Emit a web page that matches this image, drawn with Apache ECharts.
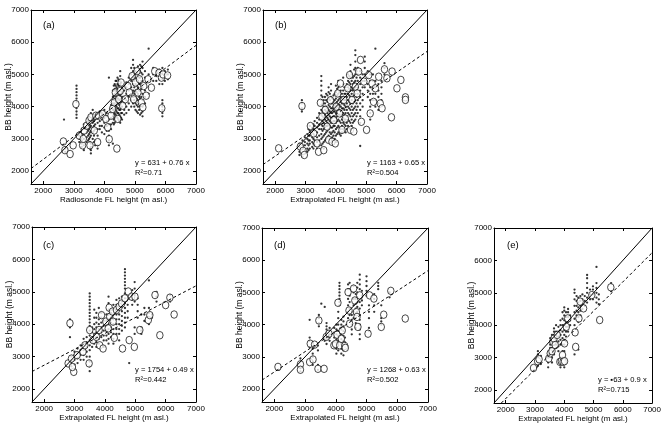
<!DOCTYPE html>
<html>
<head>
	<meta charset="utf-8">
	<title>BB height vs FL height</title>
</head>
<body style="margin:0;background:#fff;">
	<div style="width:664px;height:425px;" id="chart1"></div>

	<script src="https://cdn.jsdelivr.net/npm/echarts@6/dist/echarts.min.js"></script>
	<script>
	// axis range and ticks (same on both axes of every panel)
	var axisMin = 1600, axisMax = 7000;
	var tickVals = [2000, 3000, 4000, 5000, 6000, 7000];

	var panelTags = ['(a)', '(b)', '(c)', '(d)', '(e)'];
	var xNames = ['Radiosonde FL height (m asl.)', 'Extrapolated FL height (m asl.)', 'Extrapolated FL height (m asl.)',
		'Extrapolated FL height (m asl.)', 'Extrapolated FL height (m asl.)'];
	var yName = 'BB height (m asl.)';
	var eqTexts = ['y = 631 + 0.76 x', 'y = 1163 + 0.65 x', 'y = 1754 + 0.49 x', 'y = 1268 + 0.63 x', 'y = \u25aa63 + 0.9 x'];
	var r2Texts = ['R\u00b2=0.71', 'R\u00b2=0.504', 'R\u00b2=0.442', 'R\u00b2=0.502', 'R\u00b2=0.715'];

	// 1:1 line and fitted (dashed) lines, end points
	var diag = [[1600, 1600], [7000, 7000]];
	var fitA = [[1600, 2080], [7000, 5900]];
	var fitB = [[1600, 2203], [7000, 5713]];
	var fitC = [[1600, 2540], [7000, 5184]];
	var fitD = [[1600, 2280], [7000, 5678]];
	var fitE = [[1850, 1600], [7000, 6237]];

	// open circles [FL, BB]
	var circA = [[2660,2920],[2710,2650],[2880,2530],[2980,2800],[3070,4080],[3180,3100],[3290,2800],[3310,3000],[3340,3260],
		[3420,3410],[3500,3570],[3530,2800],[3560,3670],[3670,3260],[3720,3720],[3780,2900],[3810,3720],[3940,3770],[4050,3620],
		[4110,3360],[4160,2990],[4220,3720],[4270,3930],[4330,4130],[4360,4440],[4410,2700],[4440,3620],[4470,4230],[4520,4490],
		[4550,4750],[4600,4030],[4690,4230],[4770,4640],[4820,4440],[4910,4950],[4960,4230],[5020,4750],[5070,5100],[5100,4440],
		[5150,4850],[5210,4130],[5260,3980],[5290,4640],[5370,4340],[5430,4850],[5540,4590],[5650,5100],[5790,5050],[5870,4900],
		[5920,5000],[6070,4970],[5880,3950]];
	var circB = [[2116,2707],[2884,4020],[2830,2760],[2920,2630],[2960,2500],[3160,3400],[3270,3170],[3380,2860],[3430,2600],
		[3490,4120],[3540,3690],[3600,2650],[3650,3900],[3710,3380],[3760,2970],[3820,4200],[3870,2910],[3930,3580],[3980,2860],
		[4010,4000],[4060,4410],[4120,3790],[4150,4720],[4200,3280],[4260,4210],[4310,3630],[4390,4570],[4450,4980],[4480,3280],
		[4530,4210],[4590,3230],[4640,4620],[4700,4410],[4750,5090],[4810,5450],[4840,3530],[4920,4780],[5010,3280],[5080,4980],
		[5130,3790],[5190,4720],[5240,4150],[5300,4570],[5410,4930],[5460,4100],[5520,3950],[5600,5160],[5680,4880],[5830,3670],
		[5850,5090],[6010,4570],[6140,4830],[6290,4290],[6290,4210]];
	var circC = [[2850,4030],[2790,2790],[2900,2940],[2975,2530],[2930,2680],[3085,3045],[3280,3150],[3340,3350],[3480,2790],
		[3500,3820],[3610,3510],[3720,3610],[3810,3820],[3830,3350],[3890,4280],[3940,3250],[4030,4080],[4110,3870],[4140,4510],
		[4160,4230],[4250,4390],[4270,4080],[4310,3580],[4380,4440],[4470,4540],[4550,4640],[4580,3250],[4660,4800],[4770,5010],
		[4800,3510],[4880,4850],[4990,4850],[4970,3300],[5150,3820],[5430,4130],[5480,4280],[5650,4900],[5810,3660],[6000,4590],
		[6140,4820],[6280,4300]];
	var circD = [[2120,2690],[2850,2770],[2850,2600],[3150,2840],[3170,3410],[3260,2920],[3310,3380],[3420,2630],[3450,4130],
		[3620,2630],[3690,3620],[3780,3720],[3940,3360],[3990,3400],[4040,3690],[4070,4680],[4130,3360],[4180,3560],[4210,3820],
		[4290,3340],[4310,3280],[4400,5010],[4430,4440],[4450,4030],[4580,5120],[4620,4750],[4670,4390],[4690,4240],[4720,3930],
		[4780,4910],[5050,3720],[5100,4910],[5240,4810],[5480,3930],[5560,4310],[5790,5050],[6260,4190]];
	var circE = [[2950,2680],[3090,2890],[3140,2950],[3470,2970],[3520,3130],[3580,3200],[3610,3490],[3650,3590],[3690,3390],
		[3760,3700],[3850,2870],[3900,2890],[3940,3080],[3960,2870],[4010,2890],[4010,3440],[4070,3950],[4120,4210],[4390,3330],
		[4370,3780],[4500,4210],[4540,4730],[4660,4520],[4940,4930],[5210,4160],[5590,5170]];

	// small dots, one column per row: [FL, BB1, BB2, ...]
	var dotsA = [
		[2680, 3600], [2720, 2600, 2700],
		[3090, 3650, 3750, 3850, 3950, 4150, 4250, 4350, 4450, 4550, 4650],
		[3180, 2900, 3000, 3100, 3200], [3260, 2750, 2850, 2950, 3050, 3150, 3300],
		[3330, 2650, 2800, 3000, 3150, 3350, 3450], [3420, 2900, 3050, 3200, 3300, 3500],
		[3500, 3000, 3150, 3300, 3450, 3600, 3700], [3560, 2550, 2650, 2750, 2850, 3100, 3250, 3400, 3800],
		[3620, 3000, 3200, 3350, 3500, 3650, 3900], [3700, 2800, 2950, 3300, 3450, 3600, 3750],
		[3780, 2700, 2800, 3100, 3300, 3500, 3650], [3850, 3300, 3400, 3550, 3700, 3850],
		[3920, 3200, 3400, 3600, 3800], [4000, 3150, 3350, 3500, 3650, 3750, 3900],
		[4080, 3250, 3400, 3550, 3700, 3800], [4150, 2800, 2950, 3100, 3250, 3450, 3600, 4900],
		[4220, 3300, 3450, 3650, 3800, 3950, 4050], [4280, 2850, 3500, 3700, 3900, 4100, 4300, 4500],
		[4340, 3500, 3650, 3800, 3950, 4100, 4250, 4400, 4550, 4700],
		[4400, 3700, 3850, 4000, 4150, 4300, 4450, 4600, 4800],
		[4460, 3600, 3800, 3950, 4100, 4250, 4400, 4500, 4650, 4850],
		[4520, 3500, 3700, 3900, 4050, 4200, 4350, 4500, 4700, 4950, 5100],
		[4580, 3600, 3800, 4000, 4150, 4300, 4450, 4600], [4650, 3750, 3900, 4100, 4300, 4500],
		[4720, 3800, 4000, 4200, 4400, 4600, 4750], [4800, 3900, 4100, 4300, 4500, 4700, 4900],
		[4880, 4000, 4200, 4400, 4600, 4800, 5000, 5200], [4940, 4100, 4300, 4500, 4700, 4900, 5100, 5300, 5450],
		[5020, 3900, 4100, 4300, 4500, 4700, 4900, 5100], [5100, 3800, 4000, 4200, 4400, 4600, 4800, 5000, 5250],
		[5170, 3750, 4000, 4250, 4500, 4700, 4900, 5100, 5300],
		[5250, 3700, 3850, 4000, 4200, 4400, 4600, 4800, 5000, 5200, 5400],
		[5330, 4100, 4300, 4500, 4700, 4900, 5100], [5450, 4400, 4600, 4800, 5000, 5800],
		[5600, 4800, 5000, 5200], [5700, 4800, 4950, 5100], [5800, 4700, 4850, 5000, 5150],
		[5900, 3700, 3800, 3900, 4000, 4100, 4200, 4700, 4850, 5000, 5200],
		[5980, 4800, 4950, 5100], [6080, 4850, 5000, 5150],
		[4310, 3450, 3600, 3750, 3900, 4050, 4200, 4350, 4500, 4650],
		[4370, 3550, 3750, 3900, 4050, 4200, 4350, 4500, 4650, 4800],
		[4430, 3650, 3800, 3950, 4100, 4250, 4400, 4550, 4700, 4900],
		[4490, 3550, 3750, 3900, 4050, 4200, 4350, 4500, 4650, 4800],
		[4550, 3650, 3800, 3950, 4100, 4250, 4400, 4550, 4750],
		[4980, 4000, 4200, 4400, 4600, 4800, 5000, 5200], [5060, 3850, 4050, 4250, 4450, 4650, 4850, 5050],
		[5140, 3900, 4100, 4300, 4500, 4700, 4900, 5150], [5210, 3800, 4050, 4300, 4550, 4800, 5050, 5250],
		[3530, 2700, 2900, 3050, 3200, 3350, 3500], [3470, 2950, 3100, 3250, 3400, 3550],
		[3660, 2900, 3100, 3250, 3400, 3550, 3750]
	];
	var dotsB = [
		[2880, 3850, 3950, 4100, 4200], [2800, 2500, 2600, 2750, 2850], [2900, 2450, 2550, 2700, 2800, 2950],
		[2980, 2550, 2650, 2800, 2900, 3050], [3060, 2600, 2700, 2850, 3000, 3150],
		[3140, 2700, 2850, 2950, 3100, 3250, 3400], [3220, 2750, 2900, 3050, 3200, 3350],
		[3300, 2800, 2950, 3100, 3250, 3400, 3550], [3380, 2700, 2900, 3050, 3200, 3350, 3500, 3650],
		[3450, 2800, 2950, 3100, 3300, 3450, 3600, 3800],
		[3520, 2800, 3000, 3150, 3300, 3450, 3600, 3750, 3900, 4050, 4200, 4350, 4500, 4650, 4800, 4950],
		[3600, 2700, 2900, 3100, 3300, 3500, 3650, 3800, 4000, 4200],
		[3680, 3000, 3200, 3400, 3550, 3700, 3850, 4000, 4200, 4400],
		[3760, 3100, 3300, 3450, 3600, 3750, 3900, 4050, 4250, 4450, 4600],
		[3840, 2950, 3150, 3350, 3500, 3650, 3800, 3950, 4100, 4300, 4500, 4700],
		[3920, 3100, 3250, 3400, 3550, 3700, 3850, 4000, 4150, 4350],
		[4000, 2900, 3100, 3300, 3500, 3650, 3800, 3950, 4100, 4250, 4450, 4650],
		[4080, 3200, 3400, 3600, 3750, 3900, 4050, 4200, 4400, 4600, 4800],
		[4160, 3100, 3300, 3500, 3700, 3850, 4000, 4150, 4300, 4500],
		[4240, 3300, 3500, 3650, 3800, 3950, 4100, 4300, 4500, 4700, 4900],
		[4320, 3200, 3400, 3600, 3800, 4000, 4200, 4400, 4600],
		[4400, 3400, 3600, 3800, 4000, 4200, 4400, 4600, 4800, 5000],
		[4480, 3300, 3500, 3700, 3900, 4100, 4300, 4500, 4700, 4900, 5100, 5300],
		[4560, 3500, 3700, 3900, 4100, 4300, 4500, 4700, 4900],
		[4640, 3600, 3800, 4000, 4200, 4400, 4600, 4800, 5000, 5200, 5400, 5600, 5750],
		[4720, 3800, 4000, 4200, 4400, 4600, 4800, 5000, 5200],
		[4800, 2780, 3500, 3700, 3900, 4100, 4300, 4500, 4700, 4900, 5100],
		[4880, 4000, 4200, 4400, 4600, 4800, 5000], [4950, 4600, 4800, 5000, 5200, 5400, 5550],
		[5050, 4300, 4500, 4700, 4900, 5100], [5130, 3600, 3800, 4000, 4200, 4400, 4600, 4800, 5000],
		[5220, 4200, 4400, 4600, 4800, 5000], [5300, 4000, 4200, 4400, 4600, 4800, 5800],
		[5400, 3900, 4100, 4300, 4500, 4700], [5500, 4200, 4400, 4600, 4800], [5600, 5000, 5200, 5350],
		[3560, 2850, 3050, 3250, 3400, 3550, 3700, 3850, 4100, 4300],
		[3640, 2950, 3150, 3350, 3450, 3600, 3750, 3900, 4100, 4300],
		[3720, 3050, 3250, 3400, 3500, 3650, 3800, 3950, 4150, 4350],
		[3800, 3000, 3200, 3400, 3550, 3700, 3850, 4000, 4200, 4400],
		[3880, 3050, 3200, 3350, 3500, 3650, 3800, 3950, 4100, 4250],
		[3960, 3000, 3200, 3400, 3550, 3700, 3850, 4050, 4200, 4400],
		[4040, 3150, 3350, 3550, 3700, 3850, 4000, 4150, 4350, 4550],
		[4120, 3150, 3350, 3550, 3750, 3900, 4050, 4250, 4450, 4650],
		[4200, 3200, 3400, 3600, 3750, 3950, 4100, 4250, 4400],
		[4280, 3250, 3450, 3600, 3750, 3900, 4050, 4200, 4400, 4600],
		[4360, 3300, 3500, 3700, 3900, 4100, 4300, 4500, 4700],
		[4440, 3350, 3550, 3750, 3950, 4150, 4350, 4550, 4750, 4950],
		[4520, 3400, 3600, 3800, 4000, 4200, 4400, 4600, 4800, 5000],
		[4600, 3550, 3750, 3950, 4150, 4350, 4550, 4750, 4950, 5150],
		[4680, 3700, 3900, 4100, 4300, 4500, 4700, 4900, 5100],
		[3100, 2650, 2800, 2950, 3100, 3300], [3260, 2700, 2850, 3000, 3150, 3300, 3450]
	];
	var dotsC = [
		[2850, 3600, 3900, 4150], [2900, 2700, 2800, 2900, 3000], [3000, 2600, 2750, 2900, 3050, 3150],
		[3100, 2800, 2950, 3100, 3250], [3200, 2900, 3050, 3200, 3350], [3300, 2900, 3050, 3200, 3400, 3550],
		[3400, 3000, 3150, 3300, 3450, 3600],
		[3500, 2550, 2700, 2850, 3000, 3200, 3350, 3500, 3650, 3800, 3950, 4050, 4150, 4250, 4350, 4450, 4550, 4650, 4750, 4850, 4950],
		[3580, 3300, 3450, 3600, 3750, 3900], [3650, 3400, 3550, 3700, 3850, 4000, 4200, 4450],
		[3720, 3300, 3450, 3600, 3750, 3900, 4050, 4200, 4350], [3800, 3400, 3550, 3700, 3850, 4000, 4150, 4500],
		[3880, 3600, 3750, 3900, 4050, 4200, 4350], [3960, 3300, 3500, 3650, 3800, 3950, 4100],
		[4050, 3500, 3650, 3800, 3950, 4100, 4300], [4120, 3400, 3550, 3700, 3850, 4000, 4150, 4300, 4450, 4650, 4850],
		[4200, 3600, 3750, 3900, 4050, 4200, 4350], [4280, 3400, 3550, 3700, 3850, 4000, 4150, 4300, 4450, 4600],
		[4380, 3700, 3850, 4000, 4150, 4300, 4450, 4600, 4750], [4470, 3500, 3700, 3850, 4000, 4150, 4300, 4450, 4600, 4800],
		[4560, 3800, 3950, 4100, 4250, 4400, 4550, 4700, 4850],
		[4660, 3900, 4050, 4200, 4350, 4500, 4650, 4800, 4950, 5100, 5200, 5300, 5400, 5500, 5600, 5700],
		[4750, 4200, 4400, 4600, 4800], [4800, 2800], [4900, 4600, 4750, 4900, 5050],
		[4980, 3700, 3900, 4700, 4900, 5100, 5300], [5080, 4200, 4400, 4600, 4800], [5200, 3700, 3800, 3900, 4300],
		[5300, 4100, 4300, 4500], [5450, 4000, 4200, 4350, 4500, 5350], [5550, 4200, 4300],
		[5700, 4700, 4850, 5000], [6150, 4700, 4900]
	];
	var dotsD = [
		[2150, 2600], [2850, 2550, 2650, 2950], [3150, 3300, 3500, 3600, 4150],
		[3250, 2750, 2850, 3000, 3100, 3250, 3450], [3420, 2600, 2750, 3200, 3350], [3450, 3950, 4050, 4200, 4300],
		[3530, 4650], [3640, 3500, 3600, 4550], [3700, 3400, 3550, 3650, 3750, 3850, 3950, 4050],
		[3800, 3500, 3600, 3700, 3800, 3900], [3950, 3300, 3450, 3600, 3750, 3900],
		[4020, 3100, 3250, 3400, 3550, 3700, 3850, 4000], [4080, 3200, 3350, 3500, 3650, 3800, 4000, 4200, 4400],
		[4120, 4600, 4700, 4800, 4900, 5000, 5100, 5200, 5300], [4180, 3100, 3250, 3400, 3550, 3700, 3850, 4000, 4150],
		[4250, 3050, 3200, 3350, 3500, 3650, 3800, 3950, 4100, 4250], [4300, 3300, 3450, 3600],
		[4400, 4200, 4400, 4600, 4800, 5100, 5250], [4450, 4300, 4500, 4700, 4900, 5100, 5300],
		[4520, 3700, 3850, 4000, 4150, 4300], [4580, 4200, 4400, 4600, 4800, 5000, 5200],
		[4650, 3900, 4050, 4200, 4350, 4500, 4650, 4800, 4950], [4700, 4400, 4550, 4700, 4850, 5000, 5150, 5300],
		[4780, 3550, 3700, 3850, 4000, 4150, 4300, 4500, 4700, 5100, 5250, 5400, 5550],
		[4850, 4600, 4750, 4900, 5050], [5000, 4900, 5050, 5200, 5350, 5500], [5080, 3800, 3900, 4200, 4400, 4600],
		[5250, 4400, 4600, 4800, 4950], [5380, 5100, 5200, 5300], [5480, 4000, 4100, 4200, 4600], [5750, 4850, 5000]
	];
	var dotsE = [
		[2950, 2600], [3100, 2750, 2850, 3000, 3100, 3200], [3200, 2800, 3050], [3450, 2700, 2850, 3000, 3100],
		[3520, 3300, 3400, 3500, 3600], [3580, 2850, 3000, 3150, 3300, 3450, 3600, 3700],
		[3650, 3100, 3250, 3400, 3550, 3700, 3800, 3900], [3720, 3300, 3400, 3500, 3600, 3700, 3800, 4000],
		[3800, 3200, 3350, 3500, 3650, 3800, 3950], [3870, 2700, 2800, 2950, 3400, 3550, 3700, 3850, 4000, 4150],
		[3940, 3000, 3200, 3400, 3600, 3800, 4000, 4200, 4400],
		[4000, 2700, 2900, 3200, 3400, 3550, 3700, 3850, 4000, 4150, 4300, 4450, 4550],
		[4060, 3500, 3650, 3800, 3950, 4100, 4250, 4400], [4130, 3800, 3950, 4100, 4250, 4400, 4500],
		[4200, 4000, 4150, 4300], [4350, 3100, 4000, 4200, 4400, 4600, 4800, 5000, 5100],
		[4420, 4300, 4450, 4600, 4750, 4900], [4480, 3250, 4100, 4250, 4400, 4550, 4700, 4850],
		[4550, 4300, 4450, 4600, 4750, 4900], [4620, 4500, 4650, 4800, 4950], [4700, 4600, 4750, 4900],
		[4780, 4700, 4850, 5000, 5150, 5300, 5450, 5550], [4880, 4800, 4950, 5100], [4980, 4800, 4950, 5100, 5200],
		[5100, 4700, 4850, 5000, 5150, 5300, 5800], [5180, 4650, 4800, 4950], [5600, 5050, 5300]
	];

	var fnt = "'Liberation Sans', Arial, sans-serif";

	function unpack(cols) {
		var out = [];
		for (var i = 0; i < cols.length; i++) {
			for (var j = 1; j < cols[i].length; j++) out.push([cols[i][0], cols[i][j]]);
		}
		return out;
	}

	function show() {
		var myChart = echarts.init(document.getElementById('chart1'), null, {renderer: 'canvas'});

		// panel boxes, in pixels
		var grids = [
			{left: 31, top: 10, width: 165, height: 174},
			{left: 263, top: 10, width: 164, height: 174},
			{left: 32, top: 227, width: 164, height: 175},
			{left: 262, top: 228, width: 166, height: 174},
			{left: 494, top: 228, width: 166, height: 175}
		];
		var dots = [dotsA, dotsB, dotsC, dotsD, dotsE];
		var circs = [circA, circB, circC, circD, circE];
		var fits = [fitA, fitB, fitC, fitD, fitE];
		var tagPos = [[43, 25], [275, 25], [43, 245], [274, 245], [507, 245]];
		var eqPos = [[135, 163], [367, 163], [135, 370], [367, 370], [598, 380]];

		var xAxis = [], yAxis = [], series = [], graphic = [];
		function ax(i, pos, labels) {
			return {
				type: 'value', gridIndex: i, min: axisMin, max: axisMax, position: pos,
				axisLine: {show: true, onZero: false, lineStyle: {color: '#000', width: 1}},
				axisTick: {show: true, inside: true, length: 3, customValues: tickVals, lineStyle: {color: '#000', width: 1}},
				axisLabel: {show: labels, customValues: tickVals, fontSize: 8, color: '#000', fontFamily: fnt, margin: 3,
					formatter: function (v) { return String(v); }},
				splitLine: {show: false}
			};
		}
		for (var i = 0; i < 5; i++) {
			var xb = ax(i, 'bottom', true);
			xb.name = xNames[i]; xb.nameLocation = 'middle'; xb.nameGap = 12; xb.nameMoveOverlap = false;
			xb.nameTextStyle = {fontSize: 8, color: '#000', fontFamily: fnt};
			xAxis.push(xb, ax(i, 'top', false));
			var yl = ax(i, 'left', true);
			yl.axisLabel.margin = 2;
			yl.name = yName; yl.nameLocation = 'middle'; yl.nameGap = 18; yl.nameMoveOverlap = false;
			yl.nameTextStyle = {fontSize: 8.5, color: '#000', fontFamily: fnt};
			yAxis.push(yl, ax(i, 'right', false));

			series.push({
				type: 'scatter', xAxisIndex: 2 * i, yAxisIndex: 2 * i, data: unpack(dots[i]),
				symbol: 'circle', symbolSize: 2.3, itemStyle: {color: '#000'}, silent: true
			});
			series.push({
				type: 'scatter', xAxisIndex: 2 * i, yAxisIndex: 2 * i, data: circs[i],
				symbol: 'circle', symbolSize: [6.5, 7.5], silent: true,
				itemStyle: {color: '#fff', borderColor: '#000', borderWidth: 0.9}
			});
			series.push({
				type: 'line', xAxisIndex: 2 * i, yAxisIndex: 2 * i, data: diag, symbol: 'none', silent: true,
				lineStyle: {color: '#000', width: 1}
			});
			series.push({
				type: 'line', xAxisIndex: 2 * i, yAxisIndex: 2 * i, data: fits[i], symbol: 'none', silent: true,
				lineStyle: {color: '#000', width: 1, type: [3, 2.5]}
			});

			graphic.push({type: 'text', x: tagPos[i][0], y: tagPos[i][1],
				style: {text: panelTags[i], fontSize: 9.5, fontFamily: fnt, fill: '#000', verticalAlign: 'middle'}});
			graphic.push({type: 'text', x: eqPos[i][0], y: eqPos[i][1],
				style: {text: eqTexts[i], fontSize: 7.6, fontFamily: fnt, fill: '#000', verticalAlign: 'middle'}});
			graphic.push({type: 'text', x: eqPos[i][0], y: eqPos[i][1] + 9.5,
				style: {text: r2Texts[i], fontSize: 7.6, fontFamily: fnt, fill: '#000', verticalAlign: 'middle'}});
		}

		myChart.setOption({
			animation: false,
			backgroundColor: '#fff',
			grid: grids,
			xAxis: xAxis,
			yAxis: yAxis,
			series: series,
			graphic: graphic
		});
	}

	show();
	</script>
</body>
</html>
